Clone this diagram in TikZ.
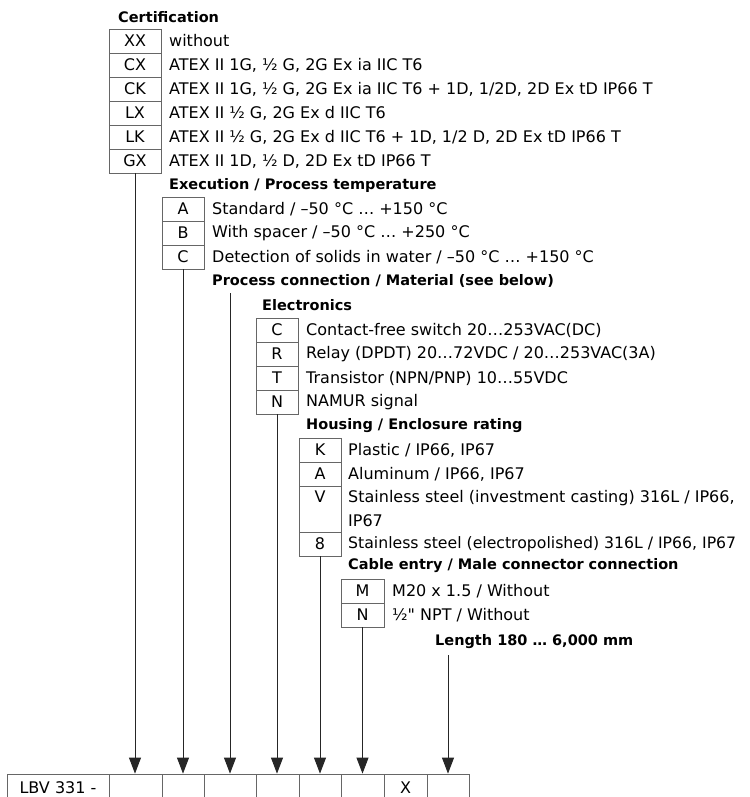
\documentclass[tikz,border=0pt]{standalone}
\usepackage{fontspec}
\setmainfont{DejaVu Sans}[Ligatures=TeXOff]
\usetikzlibrary{arrows.meta}
\tikzset{
  bx/.style={draw=black!60, line width=0.8pt, inner sep=0pt, minimum height=24pt, font=\fontsize{16}{24}\selectfont},
  desc/.style={anchor=west, inner sep=0pt, font=\fontsize{16}{24}\selectfont, align=left},
  head/.style={anchor=west, inner sep=0pt, font=\fontsize{14.5}{24}\selectfont\bfseries},
  cellbox/.style={draw=black!60, line width=0.8pt, inner sep=0pt, minimum height=28pt, font=\fontsize{16}{24}\selectfont},
  conn/.style={draw=black!85, line width=0.9pt, -{Triangle[length=16pt,width=12pt]}},
}
\begin{document}
\begin{tikzpicture}[x=1pt,y=-1pt]
\useasboundingbox (0,0) rectangle (749,797);
% Certification
\node[head] (hcert) at (118,17) {Certification};
\foreach \n/\c/\y/\t in {xx/XX/41/without,
  cx/CX/65/{ATEX II 1G, ½ G, 2G Ex ia IIC T6},
  ck/CK/89/{ATEX II 1G, ½ G, 2G Ex ia IIC T6 + 1D, 1/2D, 2D Ex tD IP66 T},
  lx/LX/113/{ATEX II ½ G, 2G Ex d IIC T6},
  lk/LK/137/{ATEX II ½ G, 2G Ex d IIC T6 + 1D, 1/2 D, 2D Ex tD IP66 T},
  gx/GX/161/{ATEX II 1D, ½ D, 2D Ex tD IP66 T}}{
  \node[bx, minimum width=52pt] (\n) at (135,\y) {\c};
  \node[desc] (\n-t) at (169,\y) {\t};
}
% Execution
\node[head] (hexec) at (169,185) {Execution / Process temperature};
\foreach \n/\c/\y/\t in {ea/A/209/{Standard / –50 °C … +150 °C},
  eb/B/233/{With spacer / –50 °C … +250 °C},
  ec/C/257/{Detection of solids in water / –50 °C … +150 °C}}{
  \node[bx, minimum width=42pt] (\n) at (183,\y) {\c};
  \node[desc] (\n-t) at (212,\y) {\t};
}
% Process connection
\node[head] (hproc) at (212,281) {Process connection / Material (see below)};
\coordinate (pc) at (230,293);
% Electronics
\node[head] (helec) at (262,305) {Electronics};
\foreach \n/\c/\y/\t in {lc/C/330/{Contact-free switch 20…253VAC(DC)},
  lr/R/354/{Relay (DPDT) 20…72VDC / 20…253VAC(3A)},
  lt/T/378/{Transistor (NPN/PNP) 10…55VDC},
  ln/N/402/{NAMUR signal}}{
  \node[bx, minimum width=42pt] (\n) at (277,\y) {\c};
  \node[desc] (\n-t) at (306,\y) {\t};
}
% Housing
\node[head] (hhous) at (306,426) {Housing / Enclosure rating};
\node[bx, minimum width=42pt] (hk) at (320,450) {K};
\node[desc] (hk-t) at (348,450) {Plastic / IP66, IP67};
\node[bx, minimum width=42pt] (ha) at (320,474) {A};
\node[desc] (ha-t) at (348,474) {Aluminum / IP66, IP67};
\node[bx, minimum width=42pt, minimum height=46pt, align=center] (hv) at (320,509) {V\\~};
\node[desc] (hv-t) at (348,509) {Stainless steel (investment casting) 316L / IP66,\\IP67};
\node[bx, minimum width=42pt] (h8) at (320,544) {8};
\node[desc, font=\fontsize{15.7}{24}\selectfont] (h8-t) at (348,544) {Stainless steel (electropolished) 316L / IP66, IP67};
% Cable entry
\node[head] (hcab) at (348,566) {Cable entry / Male connector connection};
\node[bx, minimum width=43pt] (cm) at (362.5,591) {M};
\node[desc] (cm-t) at (392,591) {M20 x 1.5 / Without};
\node[bx, minimum width=43pt] (cn) at (362.5,615) {N};
\node[desc] (cn-t) at (392,615) {½" NPT / Without};
% Length
\node[head] (hlen) at (435,642) {Length 180 … 6,000 mm};
\coordinate (len) at (448,655);
% Bottom row
\node[cellbox, minimum width=102pt] (c0) at (58,788) {LBV 331 -};
\node[cellbox, minimum width=53pt] (c1) at (135.5,788) {};
\node[cellbox, minimum width=42pt] (c2) at (183,788) {};
\node[cellbox, minimum width=52pt] (c3) at (230,788) {};
\node[cellbox, minimum width=43pt] (c4) at (277.5,788) {};
\node[cellbox, minimum width=42pt] (c5) at (320,788) {};
\node[cellbox, minimum width=43pt] (c6) at (362.5,788) {};
\node[cellbox, minimum width=43pt] (c7) at (405.5,788) {X};
\node[cellbox, minimum width=42pt] (c8) at (448,788) {};
% Connectors
\draw[conn] (gx.south) -- (gx.south |- c1.north);
\draw[conn] (ec.south) -- (ec.south |- c2.north);
\draw[conn] (pc) -- (pc |- c3.north);
\draw[conn] (ln.south) -- (ln.south |- c4.north);
\draw[conn] (h8.south) -- (h8.south |- c5.north);
\draw[conn] (cn.south) -- (cn.south |- c6.north);
\draw[conn] (len) -- (len |- c8.north);
\end{tikzpicture}
\end{document}
